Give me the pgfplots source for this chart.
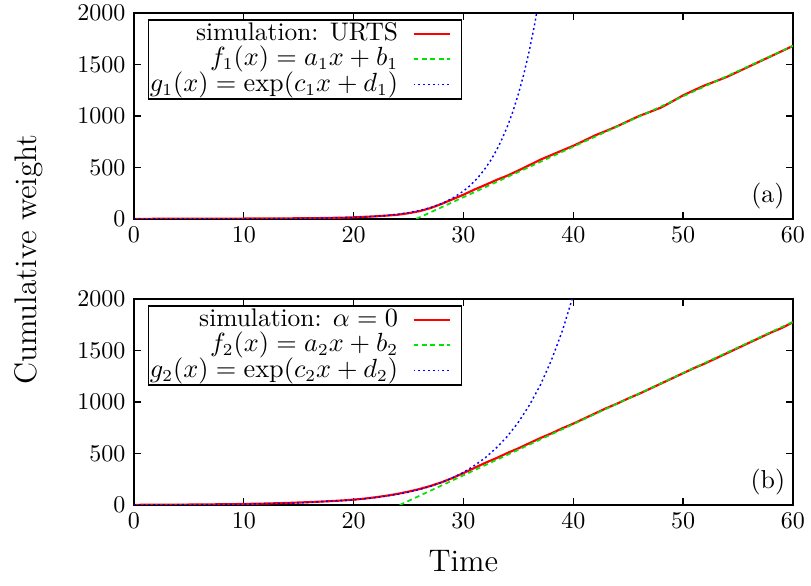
\documentclass[border=0pt]{standalone}
\usepackage{pgfplots}
\pgfplotsset{compat=1.18}
\definecolor{gred}{rgb}{1,0,0}
\definecolor{ggreen}{rgb}{0,0.9,0}
\definecolor{gblue}{rgb}{0,0,1}
\pgfplotsset{
  common/.style={
    scale only axis, width=274.6pt, height=85.8pt,
    xmin=0, xmax=60, ymin=0, ymax=2000,
    xtick={0,10,...,60}, ytick={0,500,...,2000},
    major tick length=3pt, tick align=inside,
    axis line style={line width=0.8pt},
    every tick/.style={line width=0.6pt, black},
    /pgf/number format/set thousands separator={},
    legend plot pos=right,
    legend cell align=right,
    legend style={at={(0.021,0.97)}, anchor=north west, draw=black, line width=0.6pt,
      inner sep=0.6pt, row sep=0pt, font=\fontsize{10.6}{12}\selectfont,
      nodes={inner sep=0pt, text height=7.9pt, text depth=2.7pt}},
    legend image code/.code={\path (0pt,0pt) (25pt,0pt); \draw[#1] (6pt,0.1pt) -- (21pt,0.1pt);},
    scaled y ticks=false,
    clip=true,
  },
  sim/.style={gred, line width=0.9pt},
  lin/.style={ggreen, line width=0.7pt, dash pattern=on 2pt off 1.5pt},
  expo/.style={gblue, line width=0.6pt, dash pattern=on 0.8pt off 1.2pt},
}
\begin{document}
\begin{tikzpicture}
\begin{axis}[common, name=top, at={(0,0)}, anchor=north west]
\addplot[sim] coordinates {
(0,0)(1,0)(2,1)(3,1)(4,1)(5,2)(6,2)(7,2)(8,3)(9,3)(10,3)(11,4)(12,4)(13,5)(14,5)(15,6)
(16,7)(17,8)(18,10)(19,12)(20,15)(21,20)(22,25)(23,32)(24,40)(25,55)(26,75)(27,105)
(28,145)(29,190)(30,235)(31,285)(32,330)(33,378)(34,420)(35,470)(36,522)(37,575)(38,620)
(39,665)(40,710)(41,760)(42,812)(43,855)(44,900)(45,950)(46,1000)(47,1040)(48,1082)
(49,1140)(50,1200)(51,1250)(52,1298)(53,1338)(54,1380)(55,1430)(56,1480)(57,1530)
(58,1580)(59,1630)(60,1680)};
\addlegendentry{simulation: URTS}
\addplot[lin] coordinates {(25.7,0)(60,1681)};
\addlegendentry{$f_1(x) = a_1x + b_1$}
\addplot[expo] coordinates {
(0,0.03)(5,0.15)(10,0.67)(15,3.0)(20,13.5)(21,18.2)(22,24.5)(23,33.1)(24,44.7)(25,60.3)
(26,81.5)(27,110)(28,148)(29,200)(30,270)(30.5,314)(31,365)(31.5,424)(32,493)(32.5,572)
(33,665)(33.5,773)(34,898)(34.5,1043)(35,1212)(35.5,1408)(36,1636)(36.5,1901)(37,2208)};
\addlegendentry{$g_1(x) = \exp(c_1x + d_1)$}
\node[anchor=center, font=\fontsize{10.8}{13}\selectfont] at (rel axis cs:0.962,0.11) {(a)};
\end{axis}
\begin{axis}[common, name=bot, at={(0,-119.2pt)}, anchor=north west,
  xlabel={Time}, xlabel style={font=\fontsize{13}{15}\selectfont, yshift=-2pt}]
\addplot[sim] coordinates {
(0,1)(1,2)(2,2)(3,3)(4,3)(5,4)(6,5)(7,6)(8,7)(9,8)(10,10)(11,12)(12,14)(13,17)(14,20)
(15,24)(16,28)(17,33)(18,38)(19,44)(20,52)(21,62)(22,75)(23,90)(24,108)(25,130)(26,155)
(27,185)(28,220)(29,262)(30,310)(31,360)(32,410)(33,455)(34,505)(35,550)(36,600)(37,650)
(38,695)(39,745)(40,790)(41,840)(42,890)(43,940)(44,985)(45,1035)(46,1080)(47,1130)
(48,1180)(49,1230)(50,1280)(51,1330)(52,1375)(53,1425)(54,1475)(55,1525)(56,1575)
(57,1625)(58,1675)(59,1720)(60,1775)};
\addlegendentry{simulation: $\alpha = 0$}
\addplot[lin] coordinates {(24.2,0)(60,1779)};
\addlegendentry{$f_2(x) = a_2x + b_2$}
\addplot[expo] coordinates {
(0,1.2)(5,3.0)(10,7.7)(15,19.5)(20,49.4)(22,71.5)(24,104)(25,125)(26,151)(27,181)(28,219)
(29,263)(30,317)(31,383)(32,460)(33,555)(34,667)(35,804)(36,969)(37,1165)(38,1404)
(39,1690)(40,2036)};
\addlegendentry{$g_2(x) = \exp(c_2x + d_2)$}
\node[anchor=center, font=\fontsize{10.8}{13}\selectfont] at (rel axis cs:0.962,0.11) {(b)};
\end{axis}
\node[rotate=90, anchor=center, font=\fontsize{13}{15}\selectfont] at (-44pt,-102.7pt) {Cumulative weight};
\pgfresetboundingbox
\path[use as bounding box] (-55.8pt,5.4pt) rectangle (282.1pt,-238.35pt);
\end{tikzpicture}
\end{document}
